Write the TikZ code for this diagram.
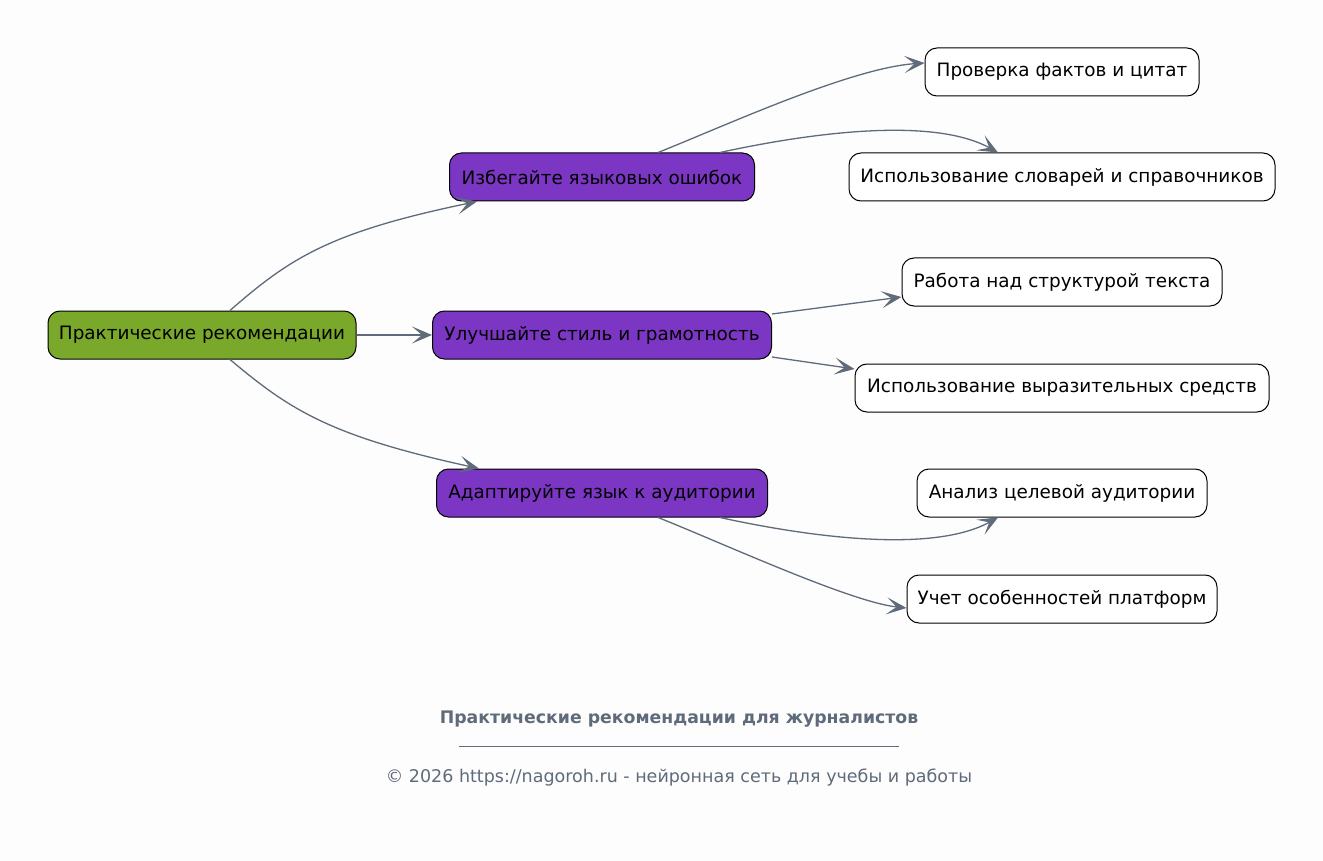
\documentclass[tikz,border=0pt]{standalone}
\usepackage{fontspec}
\setmainfont{DejaVu Sans}
\usetikzlibrary{arrows.meta,calc}
\definecolor{edgec}{HTML}{5F6B7A}
\definecolor{rootc}{HTML}{7AA82B}
\definecolor{midc}{HTML}{7B36C4}
\definecolor{bgc}{HTML}{FDFDFD}
\tikzset{
  box/.style={draw=black, line width=1pt, rounded corners=12pt, minimum height=48pt, inner sep=0pt, font=\fontsize{18.4}{22}\selectfont, text=black},
  rootbox/.style={box, fill=rootc},
  midbox/.style={box, fill=midc},
  leafbox/.style={box, fill=white},
  link/.style={draw=edgec, line width=1.3pt, -{Stealth[length=20pt,width=17pt,inset=10pt]}},
}
\begin{document}
\begin{tikzpicture}[x=1pt,y=-1pt]
\fill[bgc] (0,0) rectangle (1323,861);
\useasboundingbox (0,0) rectangle (1323,861);
\node[rootbox, minimum width=308pt] (root) at (202,335) {Практические рекомендации};
\node[midbox, minimum width=305pt] (m1) at (602,177) {Избегайте языковых ошибок};
\node[midbox, minimum width=339pt] (m2) at (602,335) {Улучшайте стиль и грамотность};
\node[midbox, minimum width=331pt] (m3) at (602,493) {Адаптируйте язык к аудитории};
\node[leafbox, minimum width=274pt] (l1) at (1062,72) {Проверка фактов и цитат};
\node[leafbox, minimum width=426pt] (l2) at (1062,177) {Использование словарей и справочников};
\node[leafbox, minimum width=320pt] (l3) at (1062,282) {Работа над структурой текста};
\node[leafbox, minimum width=414pt] (l4) at (1062,388) {Использование выразительных средств};
\node[leafbox, minimum width=290pt] (l5) at (1062,493) {Анализ целевой аудитории};
\node[leafbox, minimum width=310pt] (l6) at (1062,599) {Учет особенностей платформ};

\draw[link] ($(root.north)+(28,0)$) .. controls (290,258) and (330,232) .. ($(m1.south west)+(28,0)$);
\draw[link] (root.east) -- (m2.west);
\draw[link] ($(root.south)+(28,0)$) .. controls (290,410) and (330,436) .. ($(m3.north west)+(43,0)$);
\draw[link] ($(m1.north)+(56,0)$) .. controls (720,128) and (850,68) .. ($(l1.west)+(0,-9)$);
\draw[link] ($(m1.north)+(118,0)$) .. controls (800,135) and (930,115) .. ($(l2.north)+(-64,0)$);
\draw[link] ($(m2.east)+(0,-21)$) -- ($(l3.west)+(0,15)$);
\draw[link] ($(m2.east)+(0,22)$) -- ($(l4.west)+(0,-19)$);
\draw[link] ($(m3.south)+(118,0)$) .. controls (800,535) and (930,555) .. ($(l5.south)+(-64,0)$);
\draw[link] ($(m3.south)+(56,0)$) .. controls (720,542) and (850,602) .. ($(l6.west)+(0,9)$);

\node[font=\bfseries\fontsize{17.3}{20}\selectfont, text=edgec] (title) at (679,719) {Практические рекомендации для журналистов};
\coordinate (ls) at (459,746);
\coordinate (le) at (899,746);
\draw[edgec, line width=0.8pt] (ls) -- (le);
\node[font=\fontsize{17.5}{20}\selectfont, text=edgec] (foot) at (679,778) {© 2026 https://nagoroh.ru - нейронная сеть для учебы и работы};
\end{tikzpicture}
\end{document}
